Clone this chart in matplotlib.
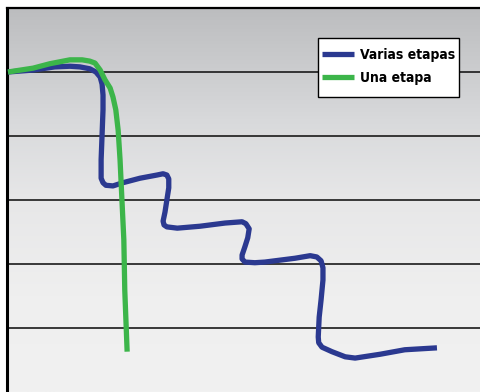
import numpy as np
import matplotlib.pyplot as plt
from matplotlib.colors import LinearSegmentedColormap
from matplotlib.patches import Rectangle

# Curvas (x: 0-100, y: 0-6)
varias_x = [0.2, 5.5, 10.1, 13.3, 15.4, 17.5, 18.8, 19.7, 20.1, 20.3, 20.3, 20.1,
            19.9, 19.9, 20.3, 20.9, 22.4, 24.5, 28.1, 31.7, 33.0, 33.8, 34.2, 34.2,
            33.8, 33.4, 33.0, 33.2, 33.8, 36.0, 40.8, 46.1, 49.7, 50.5, 51.2, 50.9,
            50.3, 49.7, 49.7, 50.3, 52.4, 54.5, 57.7, 60.9, 64.1, 65.5, 66.4, 66.8,
            66.8, 66.4, 66.0, 65.8, 65.9, 66.6, 68.7, 71.5, 73.6, 78.9, 84.1, 90.9]
varias_y = [5.00, 5.03, 5.08, 5.09, 5.08, 5.05, 5.00, 4.92, 4.81, 4.64, 4.41, 4.02,
            3.63, 3.34, 3.27, 3.23, 3.22, 3.27, 3.34, 3.39, 3.41, 3.39, 3.33, 3.19,
            3.00, 2.81, 2.67, 2.61, 2.58, 2.56, 2.59, 2.64, 2.66, 2.63, 2.55, 2.41,
            2.27, 2.14, 2.08, 2.03, 2.02, 2.03, 2.06, 2.09, 2.13, 2.11, 2.05, 1.94,
            1.75, 1.44, 1.17, 0.86, 0.77, 0.70, 0.63, 0.55, 0.53, 0.59, 0.66, 0.69]

una_x = [0.2, 5.5, 9.1, 13.3, 15.9, 17.5, 18.6, 19.7, 20.7, 21.8, 22.4, 23.0,
         23.5, 23.9, 24.3, 24.7, 24.9, 25.4]
una_y = [5.00, 5.06, 5.13, 5.19, 5.19, 5.17, 5.14, 5.03, 4.88, 4.75, 4.61, 4.41,
         4.09, 3.63, 3.00, 2.38, 1.59, 0.63]

fig = plt.figure(figsize=(4.8, 3.92), dpi=100)
ax = fig.add_axes([7 / 480, 0, 473 / 480, 384 / 392])

# fondo degradado (gris arriba, claro abajo)
cmap = LinearSegmentedColormap.from_list(
    'fondo', [(0, '#bcbdbf'), (0.3, '#d9dadc'), (0.5, '#e7e7e8'),
              (0.75, '#efefef'), (1, '#f1f1f1')])
grad = np.linspace(0, 1, 256).reshape(-1, 1)
ax.imshow(grad, cmap=cmap, extent=[0, 100, 0, 6], origin='upper',
          aspect='auto', zorder=0)

for gy in [1, 2, 3, 4, 5]:
    ax.axhline(gy, color='#1a1a1a', lw=1.2, zorder=1)

ax.plot(varias_x, varias_y, color='#2b3990', lw=3.8, solid_capstyle='butt',
        solid_joinstyle='round', label='Varias etapas', zorder=3)
ax.plot(una_x, una_y, color='#3cb54a', lw=3.8, solid_capstyle='butt',
        solid_joinstyle='round', label='Una etapa', zorder=4)

ax.set_xlim(0, 100)
ax.set_ylim(0, 6)
ax.set_xticks([])
ax.set_yticks([])
ax.spines['right'].set_visible(False)
ax.spines['bottom'].set_visible(False)
ax.spines['left'].set_linewidth(2.2)
ax.spines['top'].set_linewidth(1.6)

# caja de la leyenda dibujada aparte
ax.add_patch(Rectangle((0.6575, 0.768), 0.298, 0.1536, transform=ax.transAxes,
                       facecolor='white', edgecolor='black', lw=1.0, zorder=5))
leg = ax.legend(loc='upper left', bbox_to_anchor=(0.666, 0.897), frameon=False,
                handlelength=2.3, handletextpad=0.4, borderpad=0,
                labelspacing=0.66, borderaxespad=0,
                prop={'family': ['Liberation Sans Narrow', 'DejaVu Sans'],
                      'weight': 'bold', 'size': 10, 'stretch': 'condensed'})
leg.set_zorder(6)

fig.savefig('out.png', dpi=100)
